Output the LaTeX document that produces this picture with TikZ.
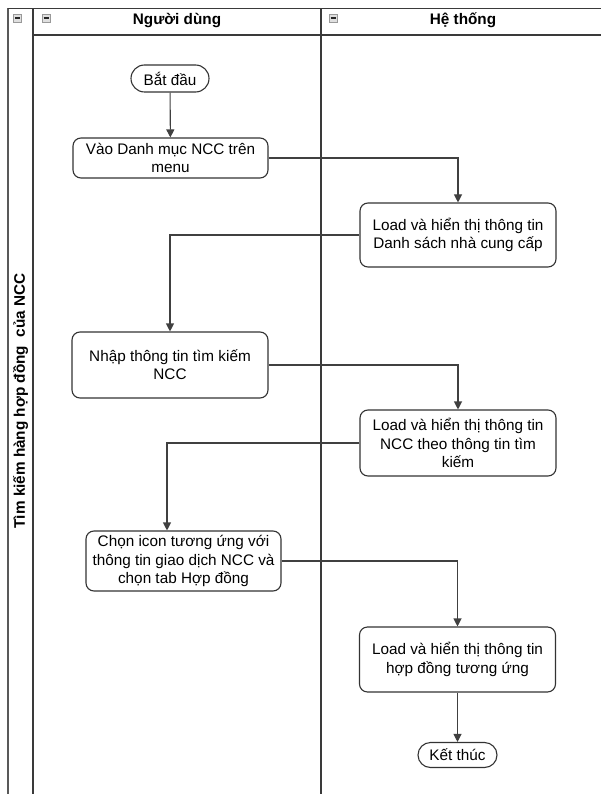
\documentclass[tikz,border=0pt]{standalone}
\usepackage{fontspec}
\setmainfont{Liberation Sans}
\usetikzlibrary{arrows.meta}
\definecolor{lanecol}{HTML}{3A3A3A}
\definecolor{boxcol}{HTML}{333333}
\definecolor{linkcol}{HTML}{404040}
\tikzset{
  lanebar/.style={line width=1.8pt, draw=lanecol},
  laneedge/.style={line width=1.2pt, draw=gray!70!black},
  stepbox/.style={draw=boxcol, line width=1.1pt, fill=white, rounded corners=8pt,
    align=center, font=\fontsize{15.3}{18.3}\selectfont, inner sep=2pt},
  termbox/.style={draw=boxcol, line width=1.1pt, fill=white, rounded corners=12pt,
    align=center, font=\fontsize{15.3}{18.3}\selectfont, inner sep=2pt},
  link/.style={draw=linkcol, line width=1.1pt, -{Triangle[length=8pt,width=8pt]}},
  hdr/.style={font=\bfseries\fontsize{15.3}{18}\selectfont},
  minusicon/.style={draw=gray!80, fill=gray!25, line width=0.6pt}
}
\begin{document}
\begin{tikzpicture}[x=1pt,y=-1pt]
\useasboundingbox (0,0) rectangle (601,794);
% swimlane frame
\draw[laneedge] (8,8.5) -- (8,794);
\draw[lanebar] (8,8.5) -- (601,8.5);
\draw[lanebar] (33,8.5) -- (33,794);
\draw[lanebar] (321,8.5) -- (321,794);
\draw[lanebar] (33,35) -- (601,35);
% collapse icons
\foreach \ix/\nm in {17.5/i0,46/i1,333/i2}{
  \node[minusicon, minimum width=8pt, minimum height=8pt, inner sep=0pt] (\nm) at (\ix,18) {};
  \draw[line width=1.2pt, gray!30!black] ([xshift=-2.5pt]\nm.center) -- ([xshift=2.5pt]\nm.center);
}
% headers
\node[hdr] (h1) at (177,20.5) {Người dùng};
\node[hdr] (h2) at (463,20.5) {Hệ thống};
\node[hdr, rotate=90] (pool) at (20.5,401) {Tìm kiếm hàng hợp đồng \ của NCC};
% nodes
\node[termbox, minimum width=78pt, minimum height=27pt, rounded corners=13.5pt] (start) at (170,78.5) {Bắt đầu};
\node[stepbox, minimum width=195pt, minimum height=40pt] (b1) at (170.5,158) {Vào Danh mục NCC trên\\menu};
\node[stepbox, minimum width=196pt, minimum height=64pt] (b2) at (458,235) {Load và hiển thị thông tin\\Danh sách nhà cung cấp};
\node[stepbox, minimum width=196pt, minimum height=66pt] (b3) at (170,365) {Nhập thông tin tìm kiếm\\NCC};
\node[stepbox, minimum width=196pt, minimum height=66pt] (b4) at (458,443) {Load và hiển thị thông tin\\NCC theo thông tin tìm\\kiếm};
\node[stepbox, minimum width=195pt, minimum height=60pt] (b5) at (183.5,561) {Chọn icon tương ứng với\\thông tin giao dịch NCC và\\chọn tab Hợp đồng};
\node[stepbox, minimum width=196pt, minimum height=65pt] (b6) at (457.5,659.5) {Load và hiển thị thông tin\\hợp đồng tương ứng};
\node[termbox, minimum width=79pt, minimum height=25pt, rounded corners=12.5pt] (end) at (457.5,755) {Kết thúc};
% connectors
\draw[link] (start) -- (b1);
\draw[link] (b1.east) -| (b2.north);
\draw[link] (b2.west) -| (b3.north);
\draw[link] (b3.east) -| (b4.north);
\draw[link] (b4.west) -| ([xshift=-16.5pt]b5.north);
\draw[link] (b5.east) -| (b6.north);
\draw[link] (b6) -- (end);
\end{tikzpicture}
\end{document}
